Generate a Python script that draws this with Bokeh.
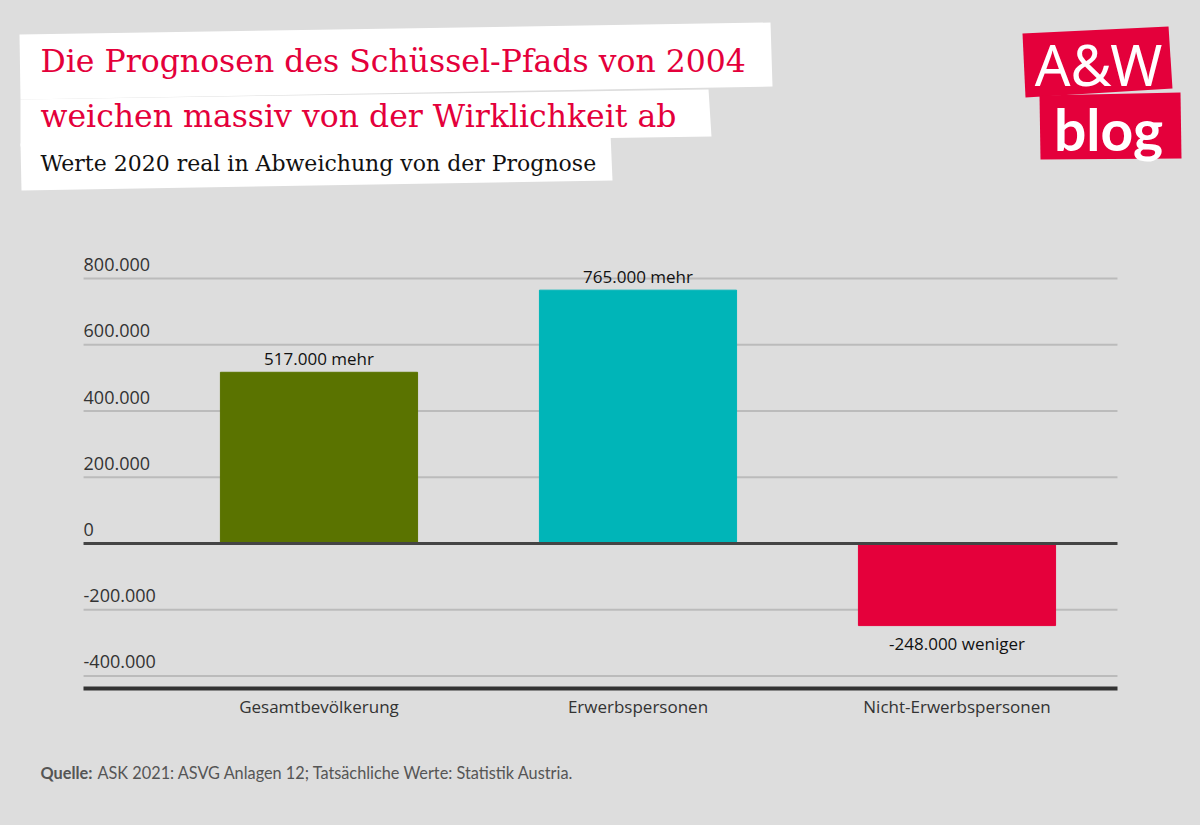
from bokeh.plotting import figure
from bokeh.layouts import column
from bokeh.models import Range1d, FixedTicker, GlobalInlineStyleSheet
from bokeh.core.properties import value
from bokeh.embed import file_html
from bokeh.resources import INLINE

# ---------------- data ----------------
categories = ["Gesamtbevölkerung", "Erwerbspersonen", "Nicht-Erwerbspersonen"]
values = [517000, 765000, -248000]
value_labels = ["517.000 mehr", "765.000 mehr", "-248.000 weniger"]
y_ticks = [-400000, -200000, 0, 200000, 400000, 600000, 800000]
y_tick_labels = ["-400.000", "-200.000", "0", "200.000", "400.000", "600.000", "800.000"]

title_lines = ["Die Prognosen des Schüssel-Pfads von 2004",
               "weichen massiv von der Wirklichkeit ab"]
subtitle = "Werte 2020 real in Abweichung von der Prognose"
source_bold = "Quelle:"
source_text = "ASK 2021: ASVG Anlagen 12; Tatsächliche Werte: Statistik Austria."

# ---------------- styles ----------------
BG = "#dddddd"
RED = "#e4003b"
bar_colors = ["#5a7300", "#00b5b8", "#e5003b"]
W = 1200
FIX = -7  # baseline correction for svg text

def blank(fig):
    fig.axis.visible = False
    fig.grid.visible = False
    fig.outline_line_color = None
    fig.background_fill_color = BG
    fig.border_fill_color = BG
    return fig

# ---------------- header (page pixel coordinates) ----------------
hdr = figure(width=W, height=230, x_range=Range1d(0, W), y_range=Range1d(230, 0),
             toolbar_location=None, output_backend="svg", min_border=0,
             x_axis_location=None, y_axis_location=None)
blank(hdr)
hdr.patches(
    xs=[[19, 770, 772, 20], [20, 708, 711, 20], [20, 610, 612, 21]],
    ys=[[34, 22, 86, 99], [99, 89, 136, 146], [143, 133, 180, 190]],
    fill_color="white", line_color=None)
hdr.text(x=[40, 40], y=[73, 128], text=title_lines, text_color=RED,
         text_font=value("DejaVu Serif"), text_font_size="31.5px",
         text_baseline="alphabetic", text_align="left", y_offset=FIX - 6)
hdr.text(x=[40], y=[172], text=[subtitle], text_color="#111111",
         text_font=value("DejaVu Serif"), text_font_size="22px",
         text_baseline="alphabetic", text_align="left", y_offset=FIX - 2)
# logo
hdr.patches(
    xs=[[1022, 1168, 1172, 1025], [1039, 1180, 1181, 1040]],
    ys=[[33, 26, 88, 97], [95, 92, 158, 159]],
    fill_color=RED, line_color=None)
hdr.text(x=[1098], y=[85], text=["A&W"], text_color="white",
         text_font=value("Noto Sans"), text_font_size="56px",
         text_baseline="alphabetic", text_align="center", y_offset=FIX - 15)
hdr.text(x=[1108], y=[145], text=["blog"], text_color="white",
         text_font=value("Lato"), text_font_size="57px", text_font_style="bold",
         text_baseline="alphabetic", text_align="center", y_offset=FIX - 10)

# ---------------- chart ----------------
xs = list(range(len(categories)))
cx0, cx1 = -0.738, 2.503          # extent of the plotted area
p = figure(width=W, height=510, x_range=Range1d(-0.9984, 2.7633),
           y_range=Range1d(-438000, 915000),
           toolbar_location=None, output_backend="svg",
           min_border_left=0, min_border_right=0,
           min_border_top=10, min_border_bottom=52)
p.background_fill_color = BG
p.border_fill_color = BG
p.outline_line_color = None
p.yaxis.visible = False
p.grid.visible = False

# horizontal grid lines
p.segment(x0=[cx0] * len(y_ticks), x1=[cx1] * len(y_ticks), y0=y_ticks, y1=y_ticks,
          line_color="#bbbbbb", line_width=2)

p.xaxis.ticker = FixedTicker(ticks=xs)
p.xaxis.bounds = (cx0, cx1)
p.xaxis.major_label_overrides = {i: c for i, c in enumerate(categories)}
p.xaxis.axis_line_color = "#333333"
p.xaxis.axis_line_width = 4
p.xaxis.major_tick_line_color = None
p.xaxis.minor_tick_line_color = None
p.xaxis.major_label_text_font = "Open Sans"
p.xaxis.major_label_text_font_size = "17px"
p.xaxis.major_label_text_color = "#333333"
p.xaxis.major_label_standoff = 0

p.vbar(x=xs, top=values, bottom=0, width=0.618, color=bar_colors)

# zero line
p.segment(x0=[cx0], x1=[cx1], y0=[0], y1=[0], line_color="#444444", line_width=3)

# y tick labels above grid lines
p.text(x=[cx0] * len(y_ticks), y=y_ticks, text=y_tick_labels,
       text_font=value("Open Sans"), text_font_size="18px", text_color="#333333",
       text_align="left", text_baseline="alphabetic", y_offset=-7 + FIX)

pos = [i for i, v in enumerate(values) if v >= 0]
neg = [i for i, v in enumerate(values) if v < 0]
p.text(x=[xs[i] for i in pos], y=[values[i] for i in pos], text=[value_labels[i] for i in pos],
       text_font=value("Open Sans"), text_font_size="17px", text_color="#111111",
       text_align="center", text_baseline="alphabetic", y_offset=-7 + FIX)
p.text(x=[xs[i] for i in neg], y=[values[i] for i in neg], text=[value_labels[i] for i in neg],
       text_font=value("Open Sans"), text_font_size="17px", text_color="#111111",
       text_align="center", text_baseline="alphabetic", y_offset=25 + FIX)

# ---------------- footer ----------------
ftr = figure(width=W, height=85, x_range=Range1d(0, W), y_range=Range1d(825, 740),
             toolbar_location=None, output_backend="svg", min_border=0,
             x_axis_location=None, y_axis_location=None)
blank(ftr)
ftr.text(x=[40], y=[779], text=[source_bold], text_color="#555555",
         text_font=value("Lato"), text_font_size="16.3px", text_font_style="bold",
         text_baseline="alphabetic", text_align="left", y_offset=FIX)
ftr.text(x=[97], y=[779], text=[source_text], text_color="#555555",
         text_font=value("Lato"), text_font_size="16.3px",
         text_baseline="alphabetic", text_align="left", y_offset=FIX)

layout = column(hdr, p, ftr, spacing=0,
                stylesheets=[GlobalInlineStyleSheet(css="body{background:#dddddd;}")])
open("out.html", "w").write(file_html(layout, INLINE))
